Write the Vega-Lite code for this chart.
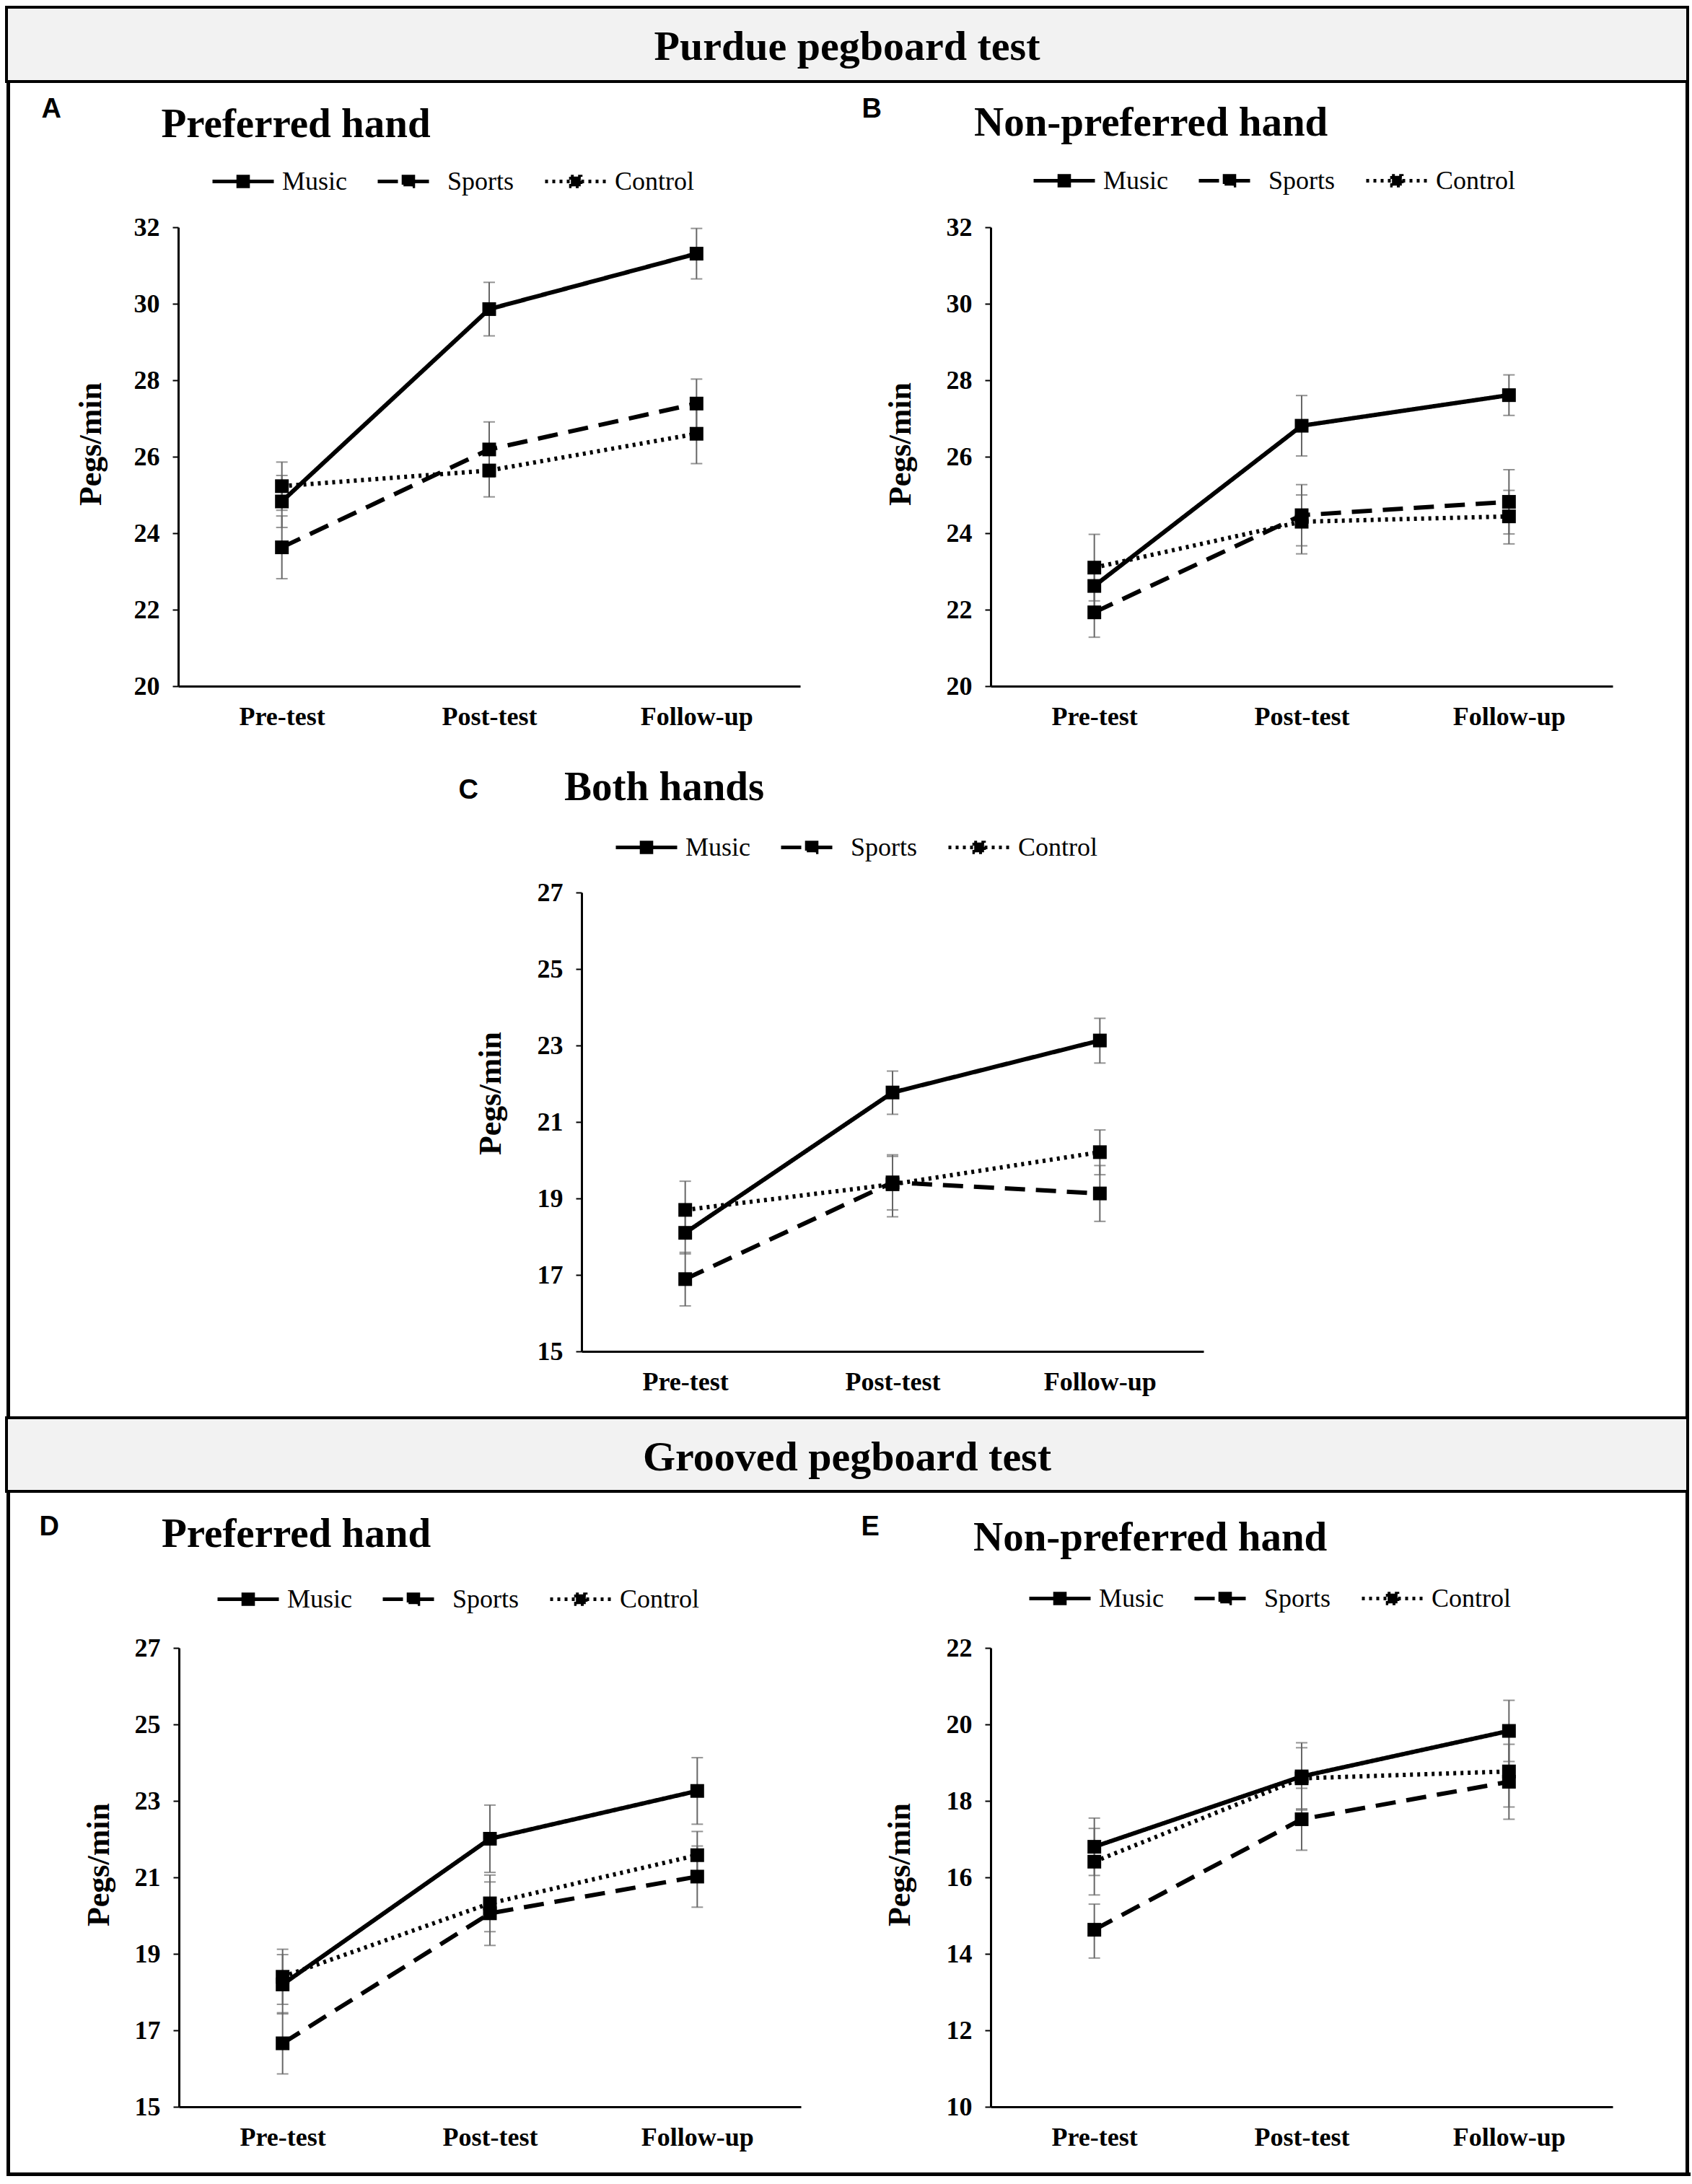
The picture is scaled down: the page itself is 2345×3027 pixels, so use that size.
{
"$schema": "https://vega.github.io/schema/vega-lite/v6.json",
"background": "white",
"padding": {"left": 7, "top": 8, "right": 0, "bottom": 0},
"config": {"view": {"stroke": null}},
"datasets": {"pegs": [
{"panel":"A","group":"Music","time":"Pre-test","mean":24.83,"lo":24.15,"hi":25.51},
{"panel":"A","group":"Music","time":"Post-test","mean":29.86,"lo":29.16,"hi":30.56},
{"panel":"A","group":"Music","time":"Follow-up","mean":31.31,"lo":30.65,"hi":31.97},
{"panel":"A","group":"Sports","time":"Pre-test","mean":23.63,"lo":22.81,"hi":24.45},
{"panel":"A","group":"Sports","time":"Post-test","mean":26.19,"lo":25.47,"hi":26.91},
{"panel":"A","group":"Sports","time":"Follow-up","mean":27.39,"lo":26.75,"hi":28.03},
{"panel":"A","group":"Control","time":"Pre-test","mean":25.23,"lo":24.60,"hi":25.86},
{"panel":"A","group":"Control","time":"Post-test","mean":25.64,"lo":24.95,"hi":26.33},
{"panel":"A","group":"Control","time":"Follow-up","mean":26.60,"lo":25.82,"hi":27.38},
{"panel":"B","group":"Music","time":"Pre-test","mean":22.62,"lo":22.02,"hi":23.22},
{"panel":"B","group":"Music","time":"Post-test","mean":26.81,"lo":26.02,"hi":27.60},
{"panel":"B","group":"Music","time":"Follow-up","mean":27.61,"lo":27.08,"hi":28.14},
{"panel":"B","group":"Sports","time":"Pre-test","mean":21.93,"lo":21.28,"hi":22.58},
{"panel":"B","group":"Sports","time":"Post-test","mean":24.47,"lo":23.67,"hi":25.27},
{"panel":"B","group":"Sports","time":"Follow-up","mean":24.82,"lo":23.98,"hi":25.66},
{"panel":"B","group":"Control","time":"Pre-test","mean":23.10,"lo":22.23,"hi":23.97},
{"panel":"B","group":"Control","time":"Post-test","mean":24.30,"lo":23.46,"hi":25.00},
{"panel":"B","group":"Control","time":"Follow-up","mean":24.44,"lo":23.72,"hi":25.12},
{"panel":"C","group":"Music","time":"Pre-test","mean":18.10,"lo":17.55,"hi":18.65},
{"panel":"C","group":"Music","time":"Post-test","mean":21.77,"lo":21.20,"hi":22.33},
{"panel":"C","group":"Music","time":"Follow-up","mean":23.13,"lo":22.54,"hi":23.71},
{"panel":"C","group":"Sports","time":"Pre-test","mean":16.89,"lo":16.19,"hi":17.59},
{"panel":"C","group":"Sports","time":"Post-test","mean":19.42,"lo":18.70,"hi":20.14},
{"panel":"C","group":"Sports","time":"Follow-up","mean":19.13,"lo":18.40,"hi":19.86},
{"panel":"C","group":"Control","time":"Pre-test","mean":18.70,"lo":17.95,"hi":19.45},
{"panel":"C","group":"Control","time":"Post-test","mean":19.37,"lo":18.52,"hi":20.10},
{"panel":"C","group":"Control","time":"Follow-up","mean":20.21,"lo":19.62,"hi":20.79},
{"panel":"D","group":"Music","time":"Pre-test","mean":18.20,"lo":17.43,"hi":18.98},
{"panel":"D","group":"Music","time":"Post-test","mean":22.01,"lo":21.13,"hi":22.89},
{"panel":"D","group":"Music","time":"Follow-up","mean":23.26,"lo":22.39,"hi":24.13},
{"panel":"D","group":"Sports","time":"Pre-test","mean":16.66,"lo":15.86,"hi":17.46},
{"panel":"D","group":"Sports","time":"Post-test","mean":20.06,"lo":19.22,"hi":20.88},
{"panel":"D","group":"Sports","time":"Follow-up","mean":21.02,"lo":20.22,"hi":21.82},
{"panel":"D","group":"Control","time":"Pre-test","mean":18.40,"lo":17.68,"hi":19.12},
{"panel":"D","group":"Control","time":"Post-test","mean":20.32,"lo":19.58,"hi":21.06},
{"panel":"D","group":"Control","time":"Follow-up","mean":21.58,"lo":20.96,"hi":22.20},
{"panel":"E","group":"Music","time":"Pre-test","mean":16.80,"lo":16.05,"hi":17.55},
{"panel":"E","group":"Music","time":"Post-test","mean":18.64,"lo":17.76,"hi":19.52},
{"panel":"E","group":"Music","time":"Follow-up","mean":19.83,"lo":19.03,"hi":20.63},
{"panel":"E","group":"Sports","time":"Pre-test","mean":14.63,"lo":13.89,"hi":15.30},
{"panel":"E","group":"Sports","time":"Post-test","mean":17.52,"lo":16.71,"hi":18.33},
{"panel":"E","group":"Sports","time":"Follow-up","mean":18.50,"lo":17.52,"hi":19.48},
{"panel":"E","group":"Control","time":"Pre-test","mean":16.41,"lo":15.54,"hi":17.28},
{"panel":"E","group":"Control","time":"Post-test","mean":18.59,"lo":17.79,"hi":19.39},
{"panel":"E","group":"Control","time":"Follow-up","mean":18.77,"lo":17.84,"hi":19.70}
]},
"spacing": 0,
"resolve": {"scale": {"strokeDash": "independent"}, "legend": {"strokeDash": "independent"}},
"vconcat": [
{"width": 2330, "height": 103, "data": {"values": [{"label": "Purdue pegboard test"}]},
 "mark": {"type": "text", "font": "Liberation Serif", "fontWeight": "bold", "fontSize": 58, "baseline": "middle", "dy": 4, "color": "black"},
 "encoding": {"text": {"field": "label", "type": "nominal"}},
 "view": {"fill": "#f2f2f2", "stroke": "black", "strokeWidth": 4}},
{"spacing": 0, "resolve": {"scale": {"strokeDash": "independent"}, "legend": {"strokeDash": "independent"}},
 "hconcat": [
  {"width": 5, "height": 1848, "data": {"values": []}, "mark": "point", "view": {"fill": "black", "stroke": null}},
  {"spacing": 0, "resolve": {"scale": {"strokeDash": "independent"}, "legend": {"strokeDash": "independent"}},
   "vconcat": [
    {"width": 10, "height": 17, "data": {"values": []}, "mark": "point"},
    {"spacing": 0, "resolve": {"scale": {"strokeDash": "independent"}, "legend": {"strokeDash": "independent"}},
     "hconcat": [
      {"width": 43, "height": 1, "data": {"values": []}, "mark": "point"},
      {"width": 862, "height": 636,
       "title": {"text": "Preferred hand", "anchor": "start", "frame": "group", "orient": "top", "offset": -70, "dx": -23.5, "dy": 0, "baseline": "top", "font": "Liberation Serif", "fontSize": 57, "fontWeight": "bold", "color": "black"},
       "data": {"name": "pegs"},
       "transform": [{"filter": "datum.panel === 'A'"}],
       "resolve": {"axis": {"x": "independent"}},
       "layer": [
        {"mark": {"type": "errorbar", "ticks": {"size": 16, "thickness": 2, "color": "#666666"}, "rule": {"strokeWidth": 2, "color": "#666666"}},
         "encoding": {
          "x": {"field": "time", "type": "nominal", "sort": ["Pre-test", "Post-test", "Follow-up"], "scale": {"type": "point", "padding": 0.5},
           "axis": {"orient": "bottom", "title": null, "labelAngle": 0, "ticks": false, "tickSize": 0, "domainColor": "black", "domainWidth": 3, "labelFont": "Liberation Serif", "labelFontWeight": "bold", "labelFontSize": 36, "labelColor": "black", "labelPadding": 25}},
          "y": {"field": "lo", "type": "quantitative", "scale": {"domain": [20, 32], "nice": false, "zero": false},
           "axis": {"values": [20, 22, 24, 26, 28, 30, 32], "title": "Pegs/min", "grid": false, "domainColor": "black", "domainWidth": 3, "tickColor": "black", "tickWidth": 2, "tickSize": 8, "labelFont": "Liberation Serif", "labelFontWeight": "bold", "labelFontSize": 36, "labelColor": "black", "labelPadding": 18, "titleFont": "Liberation Serif", "titleFontWeight": "bold", "titleFontSize": 44, "titleColor": "black", "titlePadding": 37, "titleY": 300}},
          "y2": {"field": "hi"}}},
        {"mark": {"type": "line", "color": "black", "strokeWidth": 6},
         "encoding": {
          "x": {"field": "time", "type": "nominal", "sort": ["Pre-test", "Post-test", "Follow-up"], "scale": {"type": "point", "padding": 0.5}, "axis": null},
          "y": {"field": "mean", "type": "quantitative", "scale": {"domain": [20, 32], "nice": false, "zero": false},
           "axis": {"values": [20, 22, 24, 26, 28, 30, 32], "title": "Pegs/min", "grid": false, "domainColor": "black", "domainWidth": 3, "tickColor": "black", "tickWidth": 2, "tickSize": 8, "labelFont": "Liberation Serif", "labelFontWeight": "bold", "labelFontSize": 36, "labelColor": "black", "labelPadding": 18, "titleFont": "Liberation Serif", "titleFontWeight": "bold", "titleFontSize": 44, "titleColor": "black", "titlePadding": 37, "titleY": 300}},
          "strokeDash": {"field": "group", "type": "nominal", "scale": {"domain": ["Music", "Sports", "Control"], "range": [[1, 0], [28, 15], [4, 6]]},
           "legend": {"orient": "none", "legendX": 45, "legendY": -108.5, "direction": "horizontal", "title": null, "padding": 0, "symbolType": "M-1,0L1,0M-0.16,-0.16L0.16,-0.16L0.16,0.16L-0.16,0.16Z", "symbolSize": 7225, "symbolStrokeWidth": 5, "symbolStrokeColor": "black", "symbolFillColor": "black", "symbolOpacity": 1, "labelFont": "Liberation Serif", "labelFontSize": 36, "labelColor": "black", "labelOffset": 9, "columnPadding": 32, "labelLimit": 400,
            "encode": {"symbols": {"update": {"fill": {"value": "black"}, "stroke": {"value": "black"}, "strokeWidth": {"value": 5}, "opacity": {"value": 1}}}}}}}},
        {"mark": {"type": "point", "shape": "square", "filled": true, "color": "black", "size": 360, "opacity": 1},
         "encoding": {
          "x": {"field": "time", "type": "nominal", "sort": ["Pre-test", "Post-test", "Follow-up"], "scale": {"type": "point", "padding": 0.5},
           "axis": {"orient": "top", "domain": false, "ticks": false, "labels": false, "grid": false, "title": "A", "titleFont": "Liberation Sans", "titleFontSize": 38, "titleFontWeight": "bold", "titleColor": "black", "titleAngle": 0, "titleAlign": "left", "titleBaseline": "alphabetic", "titleX": -190, "titleY": -153}},
          "y": {"field": "mean", "type": "quantitative", "scale": {"domain": [20, 32], "nice": false, "zero": false},
           "axis": {"values": [20, 22, 24, 26, 28, 30, 32], "title": "Pegs/min", "grid": false, "domainColor": "black", "domainWidth": 3, "tickColor": "black", "tickWidth": 2, "tickSize": 8, "labelFont": "Liberation Serif", "labelFontWeight": "bold", "labelFontSize": 36, "labelColor": "black", "labelPadding": 18, "titleFont": "Liberation Serif", "titleFontWeight": "bold", "titleFontSize": 44, "titleColor": "black", "titlePadding": 37, "titleY": 300}},
          "detail": {"field": "group"}}}
       ]},
      {"width": 84.5, "height": 1, "data": {"values": []}, "mark": "point"},
      {"width": 862, "height": 636,
       "title": {"text": "Non-preferred hand", "anchor": "start", "frame": "group", "orient": "top", "offset": -68, "dx": -23, "dy": 0, "baseline": "top", "font": "Liberation Serif", "fontSize": 57, "fontWeight": "bold", "color": "black"},
       "data": {"name": "pegs"},
       "transform": [{"filter": "datum.panel === 'B'"}],
       "resolve": {"axis": {"x": "independent"}},
       "layer": [
        {"mark": {"type": "errorbar", "ticks": {"size": 16, "thickness": 2, "color": "#666666"}, "rule": {"strokeWidth": 2, "color": "#666666"}},
         "encoding": {
          "x": {"field": "time", "type": "nominal", "sort": ["Pre-test", "Post-test", "Follow-up"], "scale": {"type": "point", "padding": 0.5},
           "axis": {"orient": "bottom", "title": null, "labelAngle": 0, "ticks": false, "tickSize": 0, "domainColor": "black", "domainWidth": 3, "labelFont": "Liberation Serif", "labelFontWeight": "bold", "labelFontSize": 36, "labelColor": "black", "labelPadding": 25}},
          "y": {"field": "lo", "type": "quantitative", "scale": {"domain": [20, 32], "nice": false, "zero": false},
           "axis": {"values": [20, 22, 24, 26, 28, 30, 32], "title": "Pegs/min", "grid": false, "domainColor": "black", "domainWidth": 3, "tickColor": "black", "tickWidth": 2, "tickSize": 8, "labelFont": "Liberation Serif", "labelFontWeight": "bold", "labelFontSize": 36, "labelColor": "black", "labelPadding": 18, "titleFont": "Liberation Serif", "titleFontWeight": "bold", "titleFontSize": 44, "titleColor": "black", "titlePadding": 41, "titleY": 300}},
          "y2": {"field": "hi"}}},
        {"mark": {"type": "line", "color": "black", "strokeWidth": 6},
         "encoding": {
          "x": {"field": "time", "type": "nominal", "sort": ["Pre-test", "Post-test", "Follow-up"], "scale": {"type": "point", "padding": 0.5}, "axis": null},
          "y": {"field": "mean", "type": "quantitative", "scale": {"domain": [20, 32], "nice": false, "zero": false},
           "axis": {"values": [20, 22, 24, 26, 28, 30, 32], "title": "Pegs/min", "grid": false, "domainColor": "black", "domainWidth": 3, "tickColor": "black", "tickWidth": 2, "tickSize": 8, "labelFont": "Liberation Serif", "labelFontWeight": "bold", "labelFontSize": 36, "labelColor": "black", "labelPadding": 18, "titleFont": "Liberation Serif", "titleFontWeight": "bold", "titleFontSize": 44, "titleColor": "black", "titlePadding": 41, "titleY": 300}},
          "strokeDash": {"field": "group", "type": "nominal", "scale": {"domain": ["Music", "Sports", "Control"], "range": [[1, 0], [28, 15], [4, 6]]},
           "legend": {"orient": "none", "legendX": 57, "legendY": -109.5, "direction": "horizontal", "title": null, "padding": 0, "symbolType": "M-1,0L1,0M-0.16,-0.16L0.16,-0.16L0.16,0.16L-0.16,0.16Z", "symbolSize": 7225, "symbolStrokeWidth": 5, "symbolStrokeColor": "black", "symbolFillColor": "black", "symbolOpacity": 1, "labelFont": "Liberation Serif", "labelFontSize": 36, "labelColor": "black", "labelOffset": 9, "columnPadding": 32, "labelLimit": 400,
            "encode": {"symbols": {"update": {"fill": {"value": "black"}, "stroke": {"value": "black"}, "strokeWidth": {"value": 5}, "opacity": {"value": 1}}}}}}}},
        {"mark": {"type": "point", "shape": "square", "filled": true, "color": "black", "size": 360, "opacity": 1},
         "encoding": {
          "x": {"field": "time", "type": "nominal", "sort": ["Pre-test", "Post-test", "Follow-up"], "scale": {"type": "point", "padding": 0.5},
           "axis": {"orient": "top", "domain": false, "ticks": false, "labels": false, "grid": false, "title": "B", "titleFont": "Liberation Sans", "titleFontSize": 38, "titleFontWeight": "bold", "titleColor": "black", "titleAngle": 0, "titleAlign": "left", "titleBaseline": "alphabetic", "titleX": -179, "titleY": -153}},
          "y": {"field": "mean", "type": "quantitative", "scale": {"domain": [20, 32], "nice": false, "zero": false},
           "axis": {"values": [20, 22, 24, 26, 28, 30, 32], "title": "Pegs/min", "grid": false, "domainColor": "black", "domainWidth": 3, "tickColor": "black", "tickWidth": 2, "tickSize": 8, "labelFont": "Liberation Serif", "labelFontWeight": "bold", "labelFontSize": 36, "labelColor": "black", "labelPadding": 18, "titleFont": "Liberation Serif", "titleFontWeight": "bold", "titleFontSize": 44, "titleColor": "black", "titlePadding": 41, "titleY": 300}},
          "detail": {"field": "group"}}}
       ]},
      {"width": 100.5, "height": 1, "data": {"values": []}, "mark": "point"}
     ]},
    {"width": 10, "height": 52, "data": {"values": []}, "mark": "point"},
    {"spacing": 0, "resolve": {"scale": {"strokeDash": "independent"}, "legend": {"strokeDash": "independent"}},
     "hconcat": [
      {"width": 621, "height": 1, "data": {"values": []}, "mark": "point"},
      {"width": 862, "height": 636,
       "title": {"text": "Both hands", "anchor": "start", "frame": "group", "orient": "top", "offset": -45, "dx": -24, "dy": 0, "baseline": "top", "font": "Liberation Serif", "fontSize": 57, "fontWeight": "bold", "color": "black"},
       "data": {"name": "pegs"},
       "transform": [{"filter": "datum.panel === 'C'"}],
       "resolve": {"axis": {"x": "independent"}},
       "layer": [
        {"mark": {"type": "errorbar", "ticks": {"size": 16, "thickness": 2, "color": "#666666"}, "rule": {"strokeWidth": 2, "color": "#666666"}},
         "encoding": {
          "x": {"field": "time", "type": "nominal", "sort": ["Pre-test", "Post-test", "Follow-up"], "scale": {"type": "point", "padding": 0.5},
           "axis": {"orient": "bottom", "title": null, "labelAngle": 0, "ticks": false, "tickSize": 0, "domainColor": "black", "domainWidth": 3, "labelFont": "Liberation Serif", "labelFontWeight": "bold", "labelFontSize": 36, "labelColor": "black", "labelPadding": 25}},
          "y": {"field": "lo", "type": "quantitative", "scale": {"domain": [15, 27], "nice": false, "zero": false},
           "axis": {"values": [15, 17, 19, 21, 23, 25, 27], "title": "Pegs/min", "grid": false, "domainColor": "black", "domainWidth": 3, "tickColor": "black", "tickWidth": 2, "tickSize": 8, "labelFont": "Liberation Serif", "labelFontWeight": "bold", "labelFontSize": 36, "labelColor": "black", "labelPadding": 18, "titleFont": "Liberation Serif", "titleFontWeight": "bold", "titleFontSize": 44, "titleColor": "black", "titlePadding": 42, "titleY": 278}},
          "y2": {"field": "hi"}}},
        {"mark": {"type": "line", "color": "black", "strokeWidth": 6},
         "encoding": {
          "x": {"field": "time", "type": "nominal", "sort": ["Pre-test", "Post-test", "Follow-up"], "scale": {"type": "point", "padding": 0.5}, "axis": null},
          "y": {"field": "mean", "type": "quantitative", "scale": {"domain": [15, 27], "nice": false, "zero": false},
           "axis": {"values": [15, 17, 19, 21, 23, 25, 27], "title": "Pegs/min", "grid": false, "domainColor": "black", "domainWidth": 3, "tickColor": "black", "tickWidth": 2, "tickSize": 8, "labelFont": "Liberation Serif", "labelFontWeight": "bold", "labelFontSize": 36, "labelColor": "black", "labelPadding": 18, "titleFont": "Liberation Serif", "titleFontWeight": "bold", "titleFontSize": 44, "titleColor": "black", "titlePadding": 42, "titleY": 278}},
          "strokeDash": {"field": "group", "type": "nominal", "scale": {"domain": ["Music", "Sports", "Control"], "range": [[1, 0], [28, 15], [4, 6]]},
           "legend": {"orient": "none", "legendX": 45, "legendY": -107.5, "direction": "horizontal", "title": null, "padding": 0, "symbolType": "M-1,0L1,0M-0.16,-0.16L0.16,-0.16L0.16,0.16L-0.16,0.16Z", "symbolSize": 7225, "symbolStrokeWidth": 5, "symbolStrokeColor": "black", "symbolFillColor": "black", "symbolOpacity": 1, "labelFont": "Liberation Serif", "labelFontSize": 36, "labelColor": "black", "labelOffset": 9, "columnPadding": 32, "labelLimit": 400,
            "encode": {"symbols": {"update": {"fill": {"value": "black"}, "stroke": {"value": "black"}, "strokeWidth": {"value": 5}, "opacity": {"value": 1}}}}}}}},
        {"mark": {"type": "point", "shape": "square", "filled": true, "color": "black", "size": 360, "opacity": 1},
         "encoding": {
          "x": {"field": "time", "type": "nominal", "sort": ["Pre-test", "Post-test", "Follow-up"], "scale": {"type": "point", "padding": 0.5},
           "axis": {"orient": "top", "domain": false, "ticks": false, "labels": false, "grid": false, "title": "C", "titleFont": "Liberation Sans", "titleFontSize": 38, "titleFontWeight": "bold", "titleColor": "black", "titleAngle": 0, "titleAlign": "left", "titleBaseline": "alphabetic", "titleX": -171, "titleY": -131}},
          "y": {"field": "mean", "type": "quantitative", "scale": {"domain": [15, 27], "nice": false, "zero": false},
           "axis": {"values": [15, 17, 19, 21, 23, 25, 27], "title": "Pegs/min", "grid": false, "domainColor": "black", "domainWidth": 3, "tickColor": "black", "tickWidth": 2, "tickSize": 8, "labelFont": "Liberation Serif", "labelFontWeight": "bold", "labelFontSize": 36, "labelColor": "black", "labelPadding": 18, "titleFont": "Liberation Serif", "titleFontWeight": "bold", "titleFontSize": 44, "titleColor": "black", "titlePadding": 42, "titleY": 278}},
          "detail": {"field": "group"}}}
       ]}
     ]}
   ]},
  {"width": 5, "height": 1848, "data": {"values": []}, "mark": "point", "view": {"fill": "black", "stroke": null}}
 ]},
{"width": 2330, "height": 102, "data": {"values": [{"label": "Grooved pegboard test"}]},
 "mark": {"type": "text", "font": "Liberation Serif", "fontWeight": "bold", "fontSize": 58, "baseline": "middle", "dy": 5, "color": "black"},
 "encoding": {"text": {"field": "label", "type": "nominal"}},
 "view": {"fill": "#f2f2f2", "stroke": "black", "strokeWidth": 4}},
{"spacing": 0, "resolve": {"scale": {"strokeDash": "independent"}, "legend": {"strokeDash": "independent"}},
 "hconcat": [
  {"width": 5, "height": 942, "data": {"values": []}, "mark": "point", "view": {"fill": "black", "stroke": null}},
  {"spacing": 0, "resolve": {"scale": {"strokeDash": "independent"}, "legend": {"strokeDash": "independent"}},
   "vconcat": [
    {"width": 10, "height": 28, "data": {"values": []}, "mark": "point"},
    {"spacing": 0, "resolve": {"scale": {"strokeDash": "independent"}, "legend": {"strokeDash": "independent"}},
     "hconcat": [
      {"width": 40, "height": 1, "data": {"values": []}, "mark": "point"},
      {"width": 862, "height": 636,
       "title": {"text": "Preferred hand", "anchor": "start", "frame": "group", "orient": "top", "offset": -59, "dx": -24, "dy": 0, "baseline": "top", "font": "Liberation Serif", "fontSize": 57, "fontWeight": "bold", "color": "black"},
       "data": {"name": "pegs"},
       "transform": [{"filter": "datum.panel === 'D'"}],
       "resolve": {"axis": {"x": "independent"}},
       "layer": [
        {"mark": {"type": "errorbar", "ticks": {"size": 16, "thickness": 2, "color": "#666666"}, "rule": {"strokeWidth": 2, "color": "#666666"}},
         "encoding": {
          "x": {"field": "time", "type": "nominal", "sort": ["Pre-test", "Post-test", "Follow-up"], "scale": {"type": "point", "padding": 0.5},
           "axis": {"orient": "bottom", "title": null, "labelAngle": 0, "ticks": false, "tickSize": 0, "domainColor": "black", "domainWidth": 3, "labelFont": "Liberation Serif", "labelFontWeight": "bold", "labelFontSize": 36, "labelColor": "black", "labelPadding": 25}},
          "y": {"field": "lo", "type": "quantitative", "scale": {"domain": [15, 27], "nice": false, "zero": false},
           "axis": {"values": [15, 17, 19, 21, 23, 25, 27], "title": "Pegs/min", "grid": false, "domainColor": "black", "domainWidth": 3, "tickColor": "black", "tickWidth": 2, "tickSize": 8, "labelFont": "Liberation Serif", "labelFontWeight": "bold", "labelFontSize": 36, "labelColor": "black", "labelPadding": 18, "titleFont": "Liberation Serif", "titleFontWeight": "bold", "titleFontSize": 44, "titleColor": "black", "titlePadding": 27, "titleY": 300}},
          "y2": {"field": "hi"}}},
        {"mark": {"type": "line", "color": "black", "strokeWidth": 6},
         "encoding": {
          "x": {"field": "time", "type": "nominal", "sort": ["Pre-test", "Post-test", "Follow-up"], "scale": {"type": "point", "padding": 0.5}, "axis": null},
          "y": {"field": "mean", "type": "quantitative", "scale": {"domain": [15, 27], "nice": false, "zero": false},
           "axis": {"values": [15, 17, 19, 21, 23, 25, 27], "title": "Pegs/min", "grid": false, "domainColor": "black", "domainWidth": 3, "tickColor": "black", "tickWidth": 2, "tickSize": 8, "labelFont": "Liberation Serif", "labelFontWeight": "bold", "labelFontSize": 36, "labelColor": "black", "labelPadding": 18, "titleFont": "Liberation Serif", "titleFontWeight": "bold", "titleFontSize": 44, "titleColor": "black", "titlePadding": 27, "titleY": 300}},
          "strokeDash": {"field": "group", "type": "nominal", "scale": {"domain": ["Music", "Sports", "Control"], "range": [[1, 0], [28, 15], [4, 6]]},
           "legend": {"orient": "none", "legendX": 51, "legendY": -112.5, "direction": "horizontal", "title": null, "padding": 0, "symbolType": "M-1,0L1,0M-0.16,-0.16L0.16,-0.16L0.16,0.16L-0.16,0.16Z", "symbolSize": 7225, "symbolStrokeWidth": 5, "symbolStrokeColor": "black", "symbolFillColor": "black", "symbolOpacity": 1, "labelFont": "Liberation Serif", "labelFontSize": 36, "labelColor": "black", "labelOffset": 9, "columnPadding": 32, "labelLimit": 400,
            "encode": {"symbols": {"update": {"fill": {"value": "black"}, "stroke": {"value": "black"}, "strokeWidth": {"value": 5}, "opacity": {"value": 1}}}}}}}},
        {"mark": {"type": "point", "shape": "square", "filled": true, "color": "black", "size": 360, "opacity": 1},
         "encoding": {
          "x": {"field": "time", "type": "nominal", "sort": ["Pre-test", "Post-test", "Follow-up"], "scale": {"type": "point", "padding": 0.5},
           "axis": {"orient": "top", "domain": false, "ticks": false, "labels": false, "grid": false, "title": "D", "titleFont": "Liberation Sans", "titleFontSize": 38, "titleFontWeight": "bold", "titleColor": "black", "titleAngle": 0, "titleAlign": "left", "titleBaseline": "alphabetic", "titleX": -194, "titleY": -157}},
          "y": {"field": "mean", "type": "quantitative", "scale": {"domain": [15, 27], "nice": false, "zero": false},
           "axis": {"values": [15, 17, 19, 21, 23, 25, 27], "title": "Pegs/min", "grid": false, "domainColor": "black", "domainWidth": 3, "tickColor": "black", "tickWidth": 2, "tickSize": 8, "labelFont": "Liberation Serif", "labelFontWeight": "bold", "labelFontSize": 36, "labelColor": "black", "labelPadding": 18, "titleFont": "Liberation Serif", "titleFontWeight": "bold", "titleFontSize": 44, "titleColor": "black", "titlePadding": 27, "titleY": 300}},
          "detail": {"field": "group"}}}
       ]},
      {"width": 82.5, "height": 1, "data": {"values": []}, "mark": "point"},
      {"width": 862, "height": 636,
       "title": {"text": "Non-preferred hand", "anchor": "start", "frame": "group", "orient": "top", "offset": -64, "dx": -24, "dy": 0, "baseline": "top", "font": "Liberation Serif", "fontSize": 57, "fontWeight": "bold", "color": "black"},
       "data": {"name": "pegs"},
       "transform": [{"filter": "datum.panel === 'E'"}],
       "resolve": {"axis": {"x": "independent"}},
       "layer": [
        {"mark": {"type": "errorbar", "ticks": {"size": 16, "thickness": 2, "color": "#666666"}, "rule": {"strokeWidth": 2, "color": "#666666"}},
         "encoding": {
          "x": {"field": "time", "type": "nominal", "sort": ["Pre-test", "Post-test", "Follow-up"], "scale": {"type": "point", "padding": 0.5},
           "axis": {"orient": "bottom", "title": null, "labelAngle": 0, "ticks": false, "tickSize": 0, "domainColor": "black", "domainWidth": 3, "labelFont": "Liberation Serif", "labelFontWeight": "bold", "labelFontSize": 36, "labelColor": "black", "labelPadding": 25}},
          "y": {"field": "lo", "type": "quantitative", "scale": {"domain": [10, 22], "nice": false, "zero": false},
           "axis": {"values": [10, 12, 14, 16, 18, 20, 22], "title": "Pegs/min", "grid": false, "domainColor": "black", "domainWidth": 3, "tickColor": "black", "tickWidth": 2, "tickSize": 8, "labelFont": "Liberation Serif", "labelFontWeight": "bold", "labelFontSize": 36, "labelColor": "black", "labelPadding": 18, "titleFont": "Liberation Serif", "titleFontWeight": "bold", "titleFontSize": 44, "titleColor": "black", "titlePadding": 42, "titleY": 300}},
          "y2": {"field": "hi"}}},
        {"mark": {"type": "line", "color": "black", "strokeWidth": 6},
         "encoding": {
          "x": {"field": "time", "type": "nominal", "sort": ["Pre-test", "Post-test", "Follow-up"], "scale": {"type": "point", "padding": 0.5}, "axis": null},
          "y": {"field": "mean", "type": "quantitative", "scale": {"domain": [10, 22], "nice": false, "zero": false},
           "axis": {"values": [10, 12, 14, 16, 18, 20, 22], "title": "Pegs/min", "grid": false, "domainColor": "black", "domainWidth": 3, "tickColor": "black", "tickWidth": 2, "tickSize": 8, "labelFont": "Liberation Serif", "labelFontWeight": "bold", "labelFontSize": 36, "labelColor": "black", "labelPadding": 18, "titleFont": "Liberation Serif", "titleFontWeight": "bold", "titleFontSize": 44, "titleColor": "black", "titlePadding": 42, "titleY": 300}},
          "strokeDash": {"field": "group", "type": "nominal", "scale": {"domain": ["Music", "Sports", "Control"], "range": [[1, 0], [28, 15], [4, 6]]},
           "legend": {"orient": "none", "legendX": 51, "legendY": -113.5, "direction": "horizontal", "title": null, "padding": 0, "symbolType": "M-1,0L1,0M-0.16,-0.16L0.16,-0.16L0.16,0.16L-0.16,0.16Z", "symbolSize": 7225, "symbolStrokeWidth": 5, "symbolStrokeColor": "black", "symbolFillColor": "black", "symbolOpacity": 1, "labelFont": "Liberation Serif", "labelFontSize": 36, "labelColor": "black", "labelOffset": 9, "columnPadding": 32, "labelLimit": 400,
            "encode": {"symbols": {"update": {"fill": {"value": "black"}, "stroke": {"value": "black"}, "strokeWidth": {"value": 5}, "opacity": {"value": 1}}}}}}}},
        {"mark": {"type": "point", "shape": "square", "filled": true, "color": "black", "size": 360, "opacity": 1},
         "encoding": {
          "x": {"field": "time", "type": "nominal", "sort": ["Pre-test", "Post-test", "Follow-up"], "scale": {"type": "point", "padding": 0.5},
           "axis": {"orient": "top", "domain": false, "ticks": false, "labels": false, "grid": false, "title": "E", "titleFont": "Liberation Sans", "titleFontSize": 38, "titleFontWeight": "bold", "titleColor": "black", "titleAngle": 0, "titleAlign": "left", "titleBaseline": "alphabetic", "titleX": -180, "titleY": -157}},
          "y": {"field": "mean", "type": "quantitative", "scale": {"domain": [10, 22], "nice": false, "zero": false},
           "axis": {"values": [10, 12, 14, 16, 18, 20, 22], "title": "Pegs/min", "grid": false, "domainColor": "black", "domainWidth": 3, "tickColor": "black", "tickWidth": 2, "tickSize": 8, "labelFont": "Liberation Serif", "labelFontWeight": "bold", "labelFontSize": 36, "labelColor": "black", "labelPadding": 18, "titleFont": "Liberation Serif", "titleFontWeight": "bold", "titleFontSize": 44, "titleColor": "black", "titlePadding": 42, "titleY": 300}},
          "detail": {"field": "group"}}}
       ]},
      {"width": 100.5, "height": 1, "data": {"values": []}, "mark": "point"}
     ]}
   ]},
  {"width": 5, "height": 942, "data": {"values": []}, "mark": "point", "view": {"fill": "black", "stroke": null}}
 ]},
{"width": 2334, "height": 5, "data": {"values": []}, "mark": "point", "view": {"fill": "black", "stroke": null}}
]
}
